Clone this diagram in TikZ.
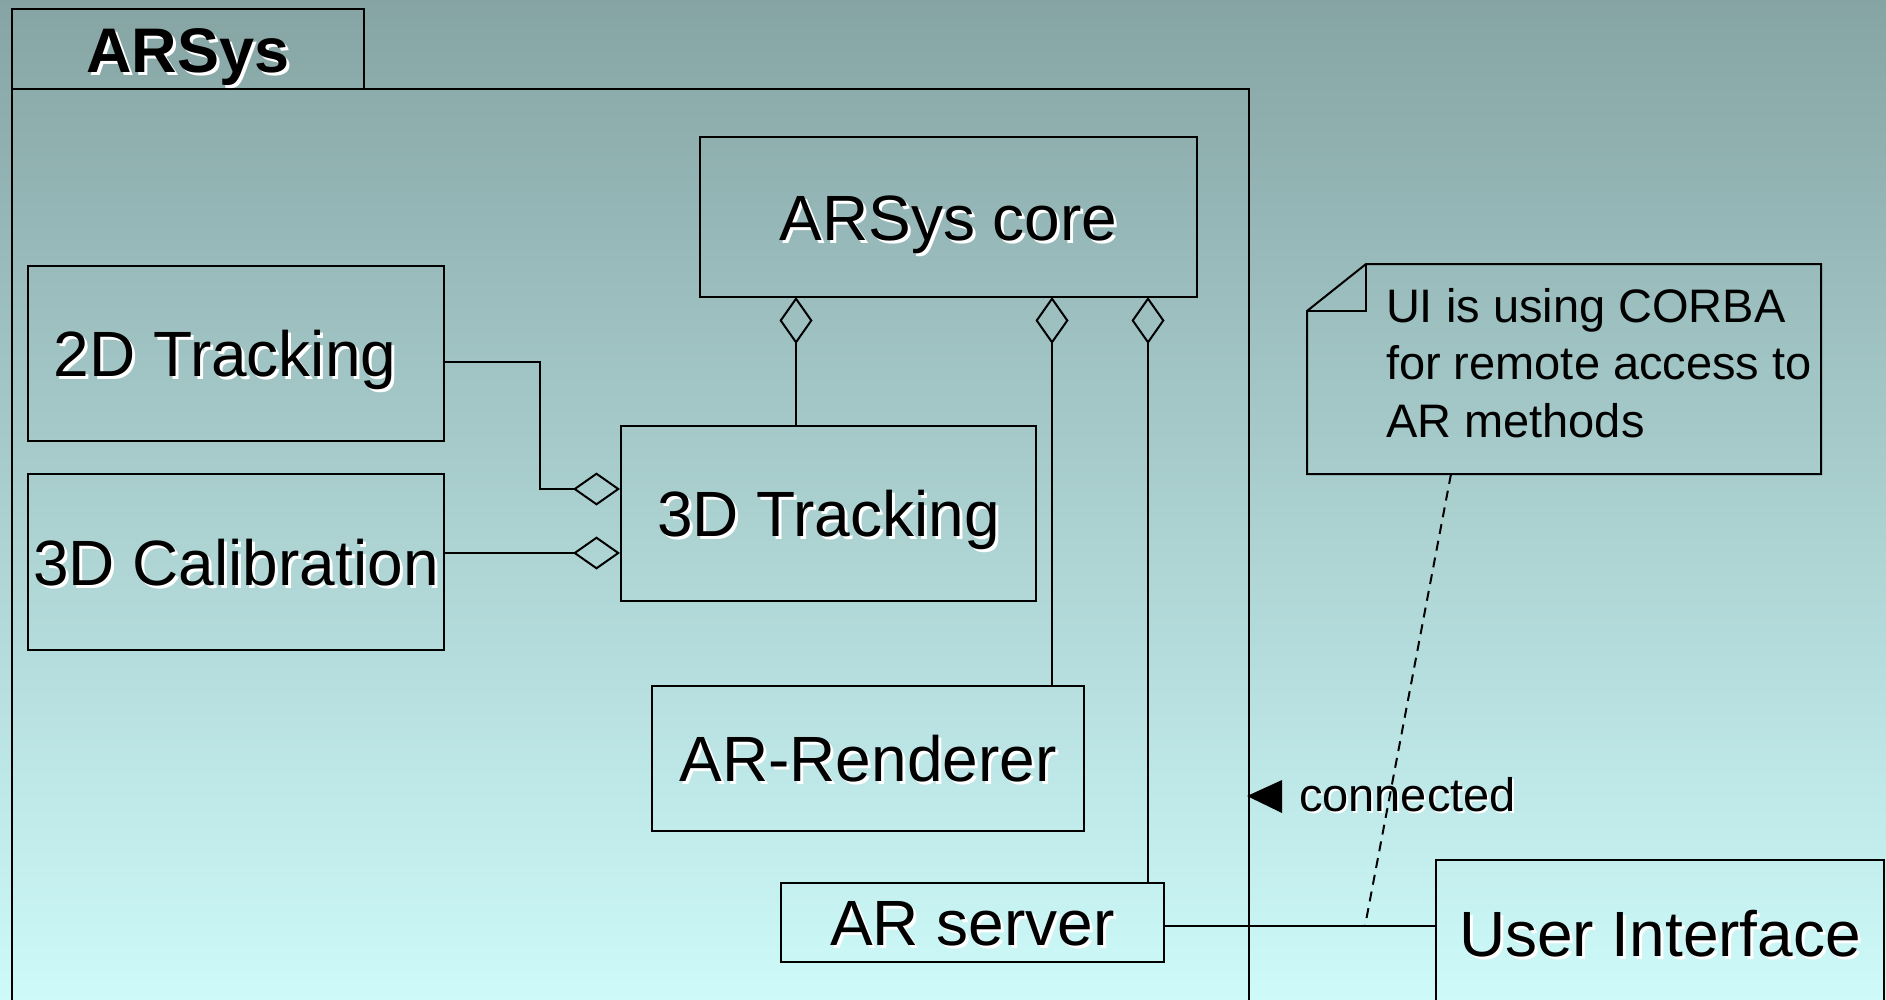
\documentclass[tikz,border=0pt]{standalone}
\usepackage{fontspec}
\setmainfont{Liberation Sans}
\usetikzlibrary{arrows.meta,calc}
\definecolor{bgtop}{RGB}{134,164,164}
\definecolor{bgbot}{RGB}{206,250,250}
\newcommand\shd[2][3pt]{\leavevmode\rlap{\kern#1\raisebox{-#1}{\textcolor{white}{#2}}}#2}
\begin{document}
\begin{tikzpicture}[x=1pt,y=-1pt,line width=2pt,
  box/.style={draw,inner sep=0pt,text height=46pt,text depth=0pt,font=\fontsize{64}{77}\selectfont},
  agg/.style={-{Diamond[open,length=47pt,width=33pt,line width=2pt]}},
  notefont/.style={font=\fontsize{47}{57.5}\selectfont}]
\clip (0,0) rectangle (1886,999);
\shade[top color=bgtop,bottom color=bgbot,draw=none] (0,0) rectangle (1886,999);
% package
\node[draw,inner sep=0pt,minimum width=1237pt,minimum height=931pt] (pkg) at (630.5,554.5) {};
\node[box,minimum width=352pt,minimum height=80pt,font=\fontsize{63}{76}\bfseries] (tab) at (188,49) {\shd{ARSys}};
% classes
\node[box,minimum width=497pt,minimum height=160pt] (core) at (948.5,217) {\shd{ARSys core}};
\node[box,minimum width=416pt,minimum height=175pt] (t2d) at (236,353.5) {\shd{2D Tracking}\kern22pt};
\node[box,minimum width=416pt,minimum height=176pt] (cal) at (236,562) {\shd{3D Calibration}};
\node[box,minimum width=415pt,minimum height=175pt] (t3d) at (828.5,513.5) {\shd{3D Tracking}};
\node[box,minimum width=432pt,minimum height=145pt] (ren) at (868,758.5) {\shd{AR-Renderer}};
\node[box,minimum width=383pt,minimum height=79pt] (srv) at (972.5,922.5) {\shd{AR server}};
\node[box,minimum width=448pt,minimum height=146pt] (ui) at (1660,933) {\shd{User Interface}};
% aggregations
\coordinate (k1) at (796,297);
\coordinate (k2) at (1052,297);
\coordinate (k3) at (1148,297);
\draw[agg] (t3d.north -| k1) -- (k1);
\draw[agg] (ren.north -| k2) -- (k2);
\draw[agg] (srv.north -| k3) -- (k3);
\coordinate (j2) at (540,489);
\draw[agg] ([yshift=-8.5pt]t2d.east) -| (j2) -- (t3d.west |- j2);
\draw[agg] ([yshift=9pt]cal.east) -- ([yshift=9pt]cal.east -| t3d.west);
% association
\draw ([yshift=-3.5pt]srv.east) -- ([yshift=-3.5pt]srv.east -| ui.west);
\coordinate (dl) at (1365,926);
% note
\node[inner sep=0pt,minimum width=512pt,minimum height=208pt] (note) at (1564,369) {};
\draw (note.west |- 0,311) -- ([xshift=59pt]note.north west) -- (note.north east) -- (note.south east) -- (note.south west) -- cycle;
\draw ([xshift=59pt]note.north west) -- ([xshift=59pt]note.west |- 0,311) -- (note.west |- 0,311);
\node[notefont,anchor=base west,align=left,inner sep=0pt] (notetxt) at (1385,437) {UI is using CORBA\\for remote access to\\AR methods};
\draw[dash pattern=on 10pt off 7pt] ([xshift=-113pt]note.south) -- (dl);
% connected label
\node[notefont,anchor=base west,inner sep=0pt] (conn) at (1298,811) {\shd[2pt]{connected}};
\fill (1247,796) -- (1282,780) -- (1282,813) -- cycle;
\end{tikzpicture}
\end{document}
